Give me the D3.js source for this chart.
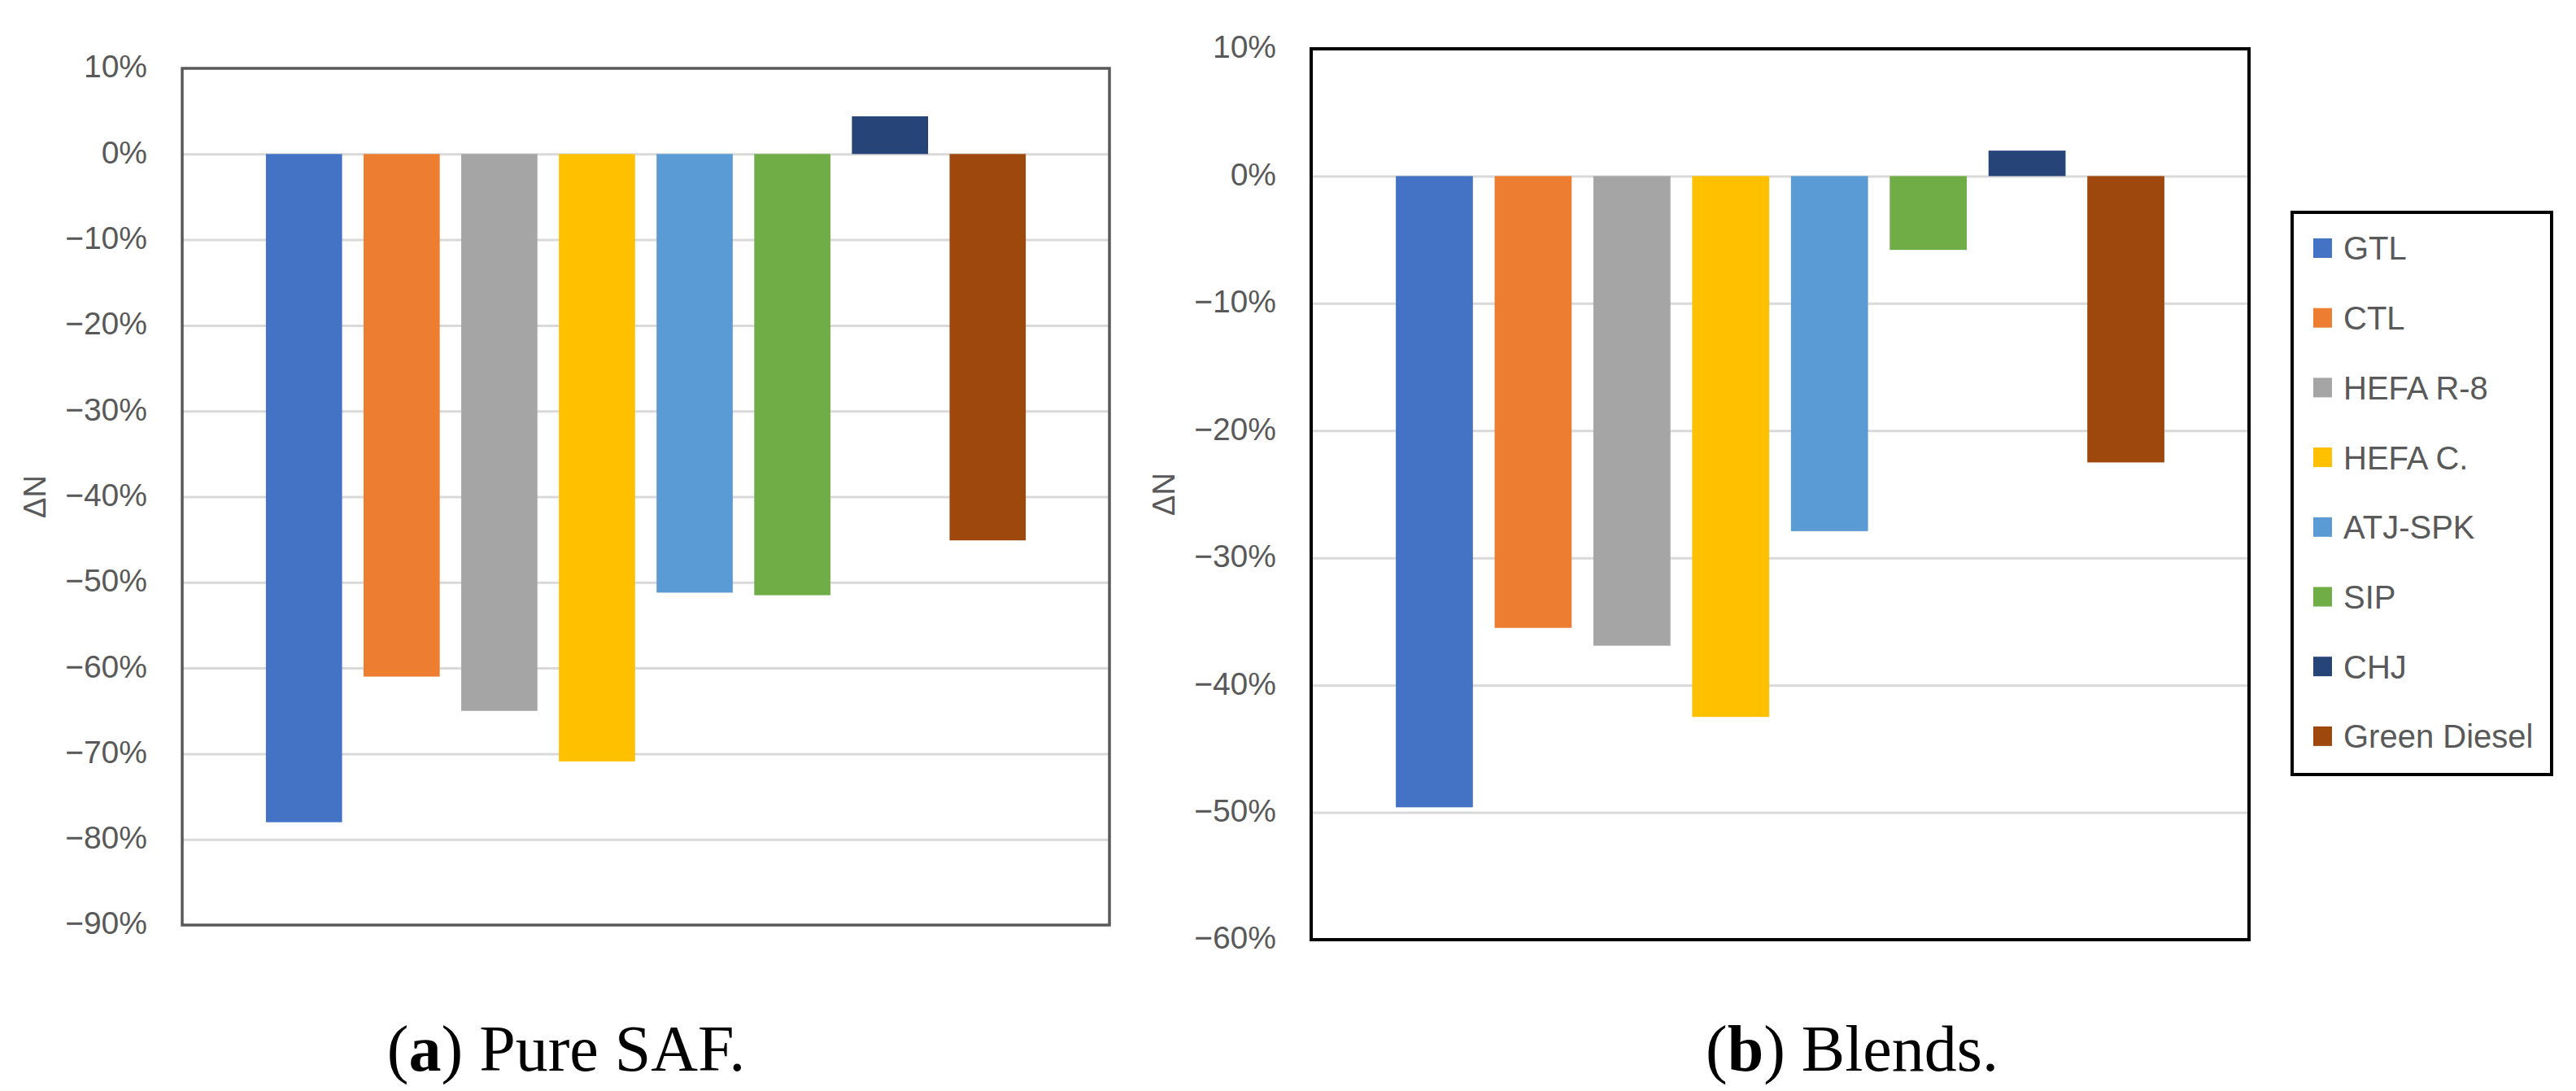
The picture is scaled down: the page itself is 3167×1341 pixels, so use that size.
<!DOCTYPE html>
<html>
<head>
<meta charset="utf-8">
<script src="https://cdn.jsdelivr.net/npm/d3@7"></script>
<style>
  body { margin: 0; background: #fff; }
  svg { display: block; }
</style>
</head>
<body>
<script>

// series (one bar each) and their colours
var series_names = ["GTL", "CTL", "HEFA R-8", "HEFA C.", "ATJ-SPK", "SIP", "CHJ", "Green Diesel"];
var series_colors = ["#4472C4", "#ED7D31", "#A5A5A5", "#FFC000", "#5B9BD5", "#70AD47", "#264478", "#9E480E"];

// delta N in percent
var pure_saf_values = [-78.0, -61.0, -65.0, -70.9, -51.2, -51.5, 4.4, -45.1];
var blends_values = [-49.6, -35.5, -36.9, -42.5, -27.9, -5.8, 2.0, -22.5];

// tick values of the two y axes
var pure_saf_ticks = [10, 0, -10, -20, -30, -40, -50, -60, -70, -80, -90];
var blends_ticks = [10, 0, -10, -20, -30, -40, -50, -60];

var captions = [["a", " Pure SAF."], ["b", " Blends."]];

var W = 3167, H = 1341;

var svg = d3.select("body").append("svg")
    .attr("width", W)
    .attr("height", H);

svg.append("rect").attr("width", W).attr("height", H).style("fill", "white");

var pct = function(v) {
  return (v < 0 ? "\u2212" : "") + Math.abs(v) + "%";
};

// draws one excel-style panel
var draw_panel = function(p) {

  var x = d3.scaleBand()
      .domain(series_names)
      .range([p.left, p.right])
      .paddingInner(0.22)
      .paddingOuter(0.857);

  var y = d3.scaleLinear()
      .domain([d3.min(p.ticks), d3.max(p.ticks)])
      .range([p.bottom, p.top]);

  var g = svg.append("g");

  // horizontal gridlines
  g.append("g")
      .attr("transform", "translate(" + p.left + ",0)")
      .call(d3.axisLeft(y).tickValues(p.ticks.slice(1, -1)).tickSize(-(p.right - p.left)).tickFormat(""))
      .call(function(a) { a.select(".domain").remove(); })
      .selectAll("line")
      .style("stroke", "#D9D9D9")
      .style("stroke-width", 3);

  // bars
  g.selectAll("rect.bar")
      .data(p.values)
      .enter().append("rect")
      .attr("class", "bar")
      .attr("x", function(d, i) { return x(series_names[i]); })
      .attr("width", x.bandwidth())
      .attr("y", function(d) { return y(Math.max(0, d)); })
      .attr("height", function(d) { return Math.abs(y(d) - y(0)); })
      .style("fill", function(d, i) { return series_colors[i]; });

  // tick labels
  g.append("g")
      .attr("transform", "translate(" + p.left + ",0)")
      .call(d3.axisLeft(y).tickValues(p.ticks).tickSize(0).tickPadding(43).tickFormat(pct))
      .call(function(a) { a.select(".domain").remove(); })
      .selectAll("text")
      .attr("dy", "0.28em")
      .attr("font-family", "Liberation Sans, Arial, sans-serif")
      .attr("font-size", 39)
      .attr("fill", "#595959");

  // plot area frame
  g.append("rect")
      .attr("x", p.left).attr("y", p.top)
      .attr("width", p.right - p.left).attr("height", p.bottom - p.top)
      .style("fill", "none")
      .style("stroke", p.frame)
      .style("stroke-width", p.frame_w);

  // y axis title
  g.append("text")
      .attr("transform", "translate(" + (p.left - 168) + "," + ((p.top + p.bottom) / 2) + ") rotate(-90)")
      .attr("text-anchor", "middle")
      .attr("font-family", "Liberation Sans, Arial, sans-serif")
      .attr("font-size", 38)
      .attr("fill", "#595959")
      .text("\u0394N");

  // caption under the panel
  var cap = svg.append("text")
      .attr("x", p.cap_x).attr("y", 1316)
      .attr("text-anchor", "middle")
      .attr("font-family", "Liberation Serif, Times New Roman, serif")
      .attr("font-size", 80)
      .attr("fill", "black");
  cap.append("tspan").text("(");
  cap.append("tspan").attr("font-weight", "bold").text(p.caption[0]);
  cap.append("tspan").text(")" + p.caption[1]);
};

draw_panel({
  left: 224, right: 1364, top: 84, bottom: 1137,
  ticks: pure_saf_ticks, values: pure_saf_values,
  frame: "#595959", frame_w: 3.5,
  caption: captions[0], cap_x: 696
});

draw_panel({
  left: 1612, right: 2765, top: 60, bottom: 1155,
  ticks: blends_ticks, values: blends_values,
  frame: "#000000", frame_w: 4,
  caption: captions[1], cap_x: 2277
});

// legend for the blends panel
var legend = svg.append("g");
legend.append("rect")
    .attr("x", 2818).attr("y", 261)
    .attr("width", 319).attr("height", 691)
    .style("fill", "white").style("stroke", "black").style("stroke-width", 4);

var rows = legend.selectAll("g.row")
    .data(series_names)
    .enter().append("g")
    .attr("class", "row")
    .attr("transform", function(d, i) { return "translate(2844," + (305 + i * 85.7) + ")"; });

rows.append("rect")
    .attr("x", 0).attr("y", -12)
    .attr("width", 23).attr("height", 24)
    .style("fill", function(d, i) { return series_colors[i]; });

rows.append("text")
    .attr("x", 37).attr("dy", "0.36em")
    .attr("font-family", "Liberation Sans, Arial, sans-serif")
    .attr("font-size", 40)
    .attr("fill", "#595959")
    .text(function(d) { return d; });

</script>
</body>
</html>
